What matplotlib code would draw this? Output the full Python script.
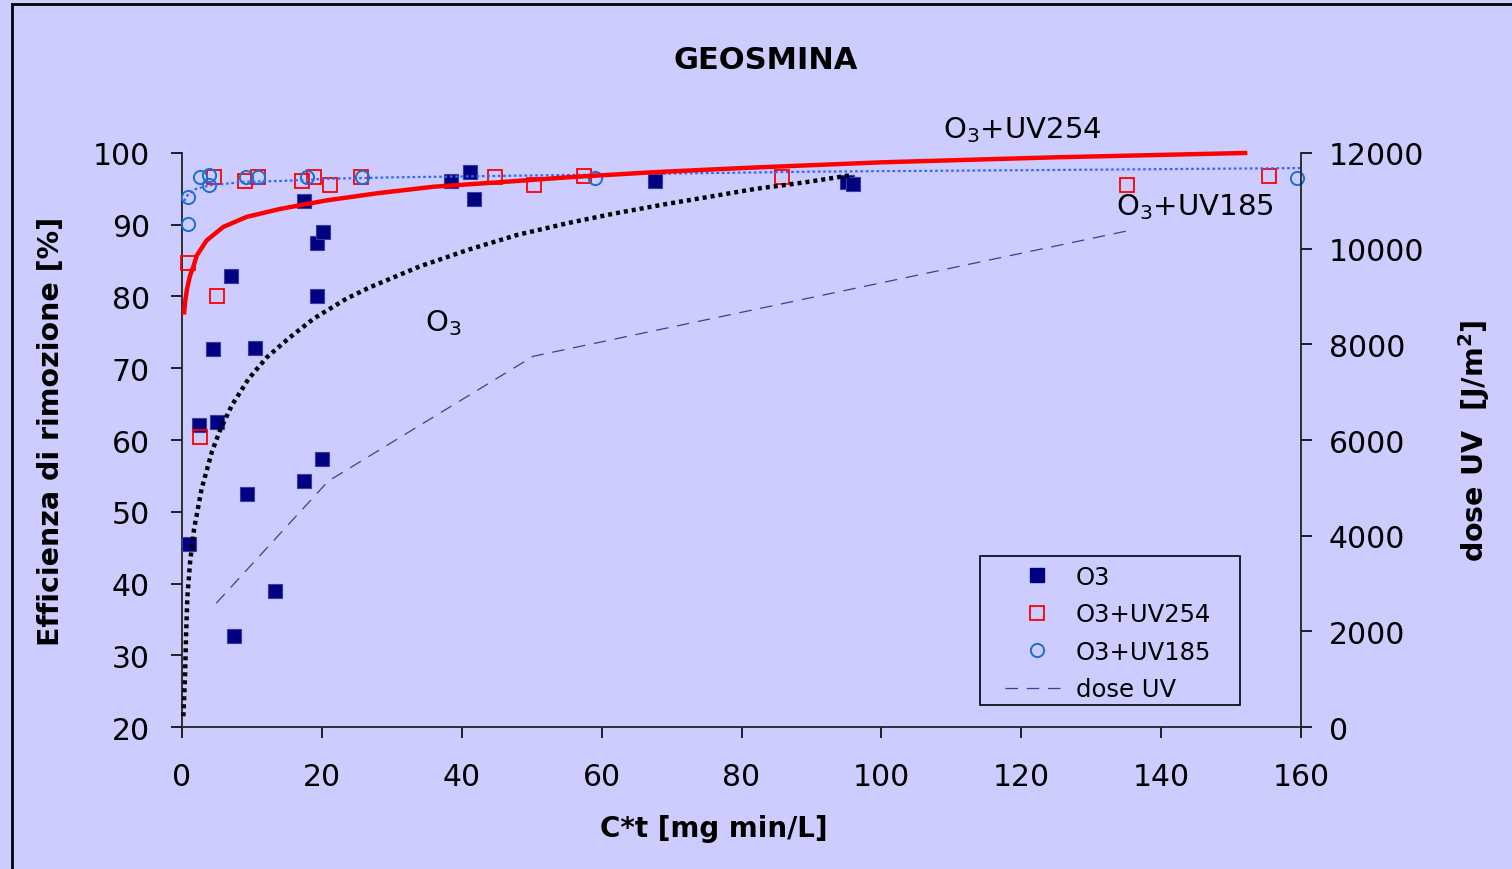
import matplotlib
matplotlib.use('Agg')
import matplotlib.pyplot as plt
from matplotlib.lines import Line2D
from matplotlib.patches import Rectangle

plt.rcParams['font.family'] = ['DejaVu Sans']
plt.rcParams['mathtext.fontset'] = 'dejavusans'

bg = '#CCCCFF'

# measured points (C*t, removal %)
o3_ct = [1.0, 2.4, 5.0, 4.4, 7.0, 7.4, 9.3, 10.5, 13.3, 17.4, 17.5, 19.3, 19.3, 20.1, 20.0, 38.5, 41.2, 41.7, 67.6, 95.1, 96.0]
o3_eff = [45.5, 62.1, 62.5, 72.7, 82.8, 32.7, 52.5, 72.8, 39.0, 93.3, 54.3, 80.0, 87.5, 89.0, 57.3, 96.1, 97.3, 93.6, 96.1, 96.0, 95.7]

uv254_ct = [0.9, 2.6, 5.0, 4.5, 9.0, 10.8, 17.1, 18.8, 21.1, 25.6, 44.8, 50.3, 57.5, 85.8, 135.1, 155.4]
uv254_eff = [84.7, 60.4, 80.0, 96.6, 96.1, 96.7, 96.1, 96.6, 95.5, 96.7, 96.6, 95.5, 96.8, 96.7, 95.5, 96.8]

uv185_ct = [0.9, 0.9, 2.5, 3.9, 3.8, 9.2, 10.8, 17.8, 25.8, 59.0, 159.4]
uv185_eff = [90.1, 93.8, 96.6, 96.9, 95.5, 96.7, 96.6, 96.7, 96.6, 96.5, 96.5]

# trend lines
o3_trend_ct = [0.19, 0.43, 0.57, 0.76, 1.14, 1.72, 2.8, 4.25, 5.4, 7.1, 9.5, 12.1, 15.4, 18.8, 23.5,
               26.9, 34, 41.2, 48, 55.5, 62, 69.3, 76, 82, 89, 95.6]
o3_trend_eff = [21.5, 27.1, 32.7, 38.1, 42.9, 47.6, 53.2, 58.3, 61.3, 64.8, 68.5, 71.5, 74.3, 76.9, 79.7,
                81.3, 84.2, 86.6, 88.6, 90.3, 91.6, 92.9, 94.0, 95.0, 95.9, 96.9]

uv254_trend_ct = [0.3, 0.45, 0.7, 1.14, 1.6, 2.1, 3.5, 5.9, 9.25, 14, 20.7, 28, 36, 45, 55, 67, 80, 100, 125, 152]
uv254_trend_eff = [77.8, 79.3, 81.0, 82.9, 84.1, 85.7, 87.8, 89.7, 91.1, 92.2, 93.4, 94.4, 95.3, 95.9, 96.6,
                   97.3, 97.9, 98.7, 99.4, 100.0]

uv185_trend_ct = [0.3, 0.9, 2.0, 4.0, 9.2, 14, 20.7, 30, 45, 60, 90, 120, 160]
uv185_trend_eff = [93.3, 94.3, 95.0, 95.5, 96.0, 96.1, 96.4, 96.6, 96.8, 97.0, 97.4, 97.6, 97.9]

# UV dose (right axis)
dose_ct = [4.9, 20.9, 50.2, 135.1]
dose_uv = [2590, 5140, 7750, 10370]

x_ticks = [0, 20, 40, 60, 80, 100, 120, 140, 160]
y_ticks = [20, 30, 40, 50, 60, 70, 80, 90, 100]
dose_ticks = [0, 2000, 4000, 6000, 8000, 10000, 12000]

fig = plt.figure(figsize=(15.12, 8.70), dpi=100, facecolor=bg)
ax = fig.add_axes([0.1204, 0.1632, 0.7401, 0.6598])
ax.set_facecolor('none')

ax.plot(o3_ct, o3_eff, ls='none', marker='s', ms=10, mfc='#000080', mec='#3a3aa0', mew=0.8, clip_on=False, zorder=3)
ax.plot(uv254_ct, uv254_eff, ls='none', marker='s', ms=9.5, mfc='none', mec='#FF0000', mew=1.3, clip_on=False, zorder=3)
ax.plot(uv185_ct, uv185_eff, ls='none', marker='o', ms=9.5, mfc='none', mec='#1a6fd6', mew=1.4, clip_on=False, zorder=3)

ax.plot(uv185_trend_ct, uv185_trend_eff, color='#3366FF', lw=1.6, ls=(0, (1.2, 1.2)), clip_on=False, zorder=4)
ax.plot(o3_trend_ct, o3_trend_eff, color='black', lw=3.2, ls=(0, (0.9, 0.9)), clip_on=False, zorder=4)
ax.plot(uv254_trend_ct, uv254_trend_eff, color='#FF0000', lw=3.2, clip_on=False, zorder=4)

ax.set_xlim(0, 160)
ax.set_ylim(20, 100)
ax.set_xticks(x_ticks)
ax.set_yticks(y_ticks)
ax.tick_params(axis='x', direction='out', length=8, width=1.2, labelsize=21.5, pad=17)
ax.tick_params(axis='y', direction='out', length=8, width=1.2, labelsize=21.5, pad=15)
for s in ['top', 'right']:
    ax.spines[s].set_visible(False)
for s in ['left', 'bottom']:
    ax.spines[s].set_linewidth(1.3)
    ax.spines[s].set_color('#222222')

ax.set_xlabel('C*t [mg min/L]', fontsize=20, fontweight='bold', labelpad=17)
ax.xaxis.label.set_x(0.475)
ax.set_ylabel('Efficienza di rimozione [%]', fontsize=20.5, fontweight='bold', labelpad=20)
ax.yaxis.label.set_y(0.516)
ax.set_title('GEOSMINA', fontsize=22, fontweight='bold', pad=61, x=0.522)

ax.text(120.2, 103.3, 'O$_3$+UV254', fontsize=21, ha='center', va='center')
ax.text(144.8, 92.6, 'O$_3$+UV185', fontsize=21, ha='center', va='center')
ax.text(37.3, 76.4, 'O$_3$', fontsize=21, ha='center', va='center')

ax2 = ax.twinx()
ax2.plot(dose_ct, dose_uv, color='#3d3d9e', lw=0.9, ls=(0, (10, 7)), zorder=2)
ax2.set_ylim(0, 12000)
ax2.set_yticks(dose_ticks)
ax2.tick_params(axis='y', direction='out', length=8, width=1.2, labelsize=21.5, pad=12)
for s in ['top', 'left', 'bottom']:
    ax2.spines[s].set_visible(False)
ax2.spines['right'].set_linewidth(1.3)
ax2.spines['right'].set_color('#222222')
ax2.set_ylabel('dose UV  [J/m$^\\mathbf{2}$]', fontsize=20.5, fontweight='bold', labelpad=23)

handles = [
    Line2D([], [], ls='none', marker='s', ms=10, mfc='#000080', mec='#000080'),
    Line2D([], [], ls='none', marker='s', ms=9.5, mfc='none', mec='#FF0000', mew=1.3),
    Line2D([], [], ls='none', marker='o', ms=9.5, mfc='none', mec='#1a6fd6', mew=1.4),
    Line2D([], [], color='#3d3d9e', lw=0.9, ls=(0, (10, 7))),
]
labels = ['O3', 'O3+UV254', 'O3+UV185', 'dose UV']
ax2.add_patch(Rectangle((0.713, 0.038), 0.232, 0.26, transform=ax2.transAxes,
                        facecolor=bg, edgecolor='black', lw=1.2, zorder=5))
leg = ax2.legend(handles, labels, loc='upper left', bbox_to_anchor=(0.727, 0.300),
                 frameon=False, fontsize=17.5, handlelength=2.6, handletextpad=0.3,
                 labelspacing=0.56, borderaxespad=0)
leg.set_zorder(6)

fig.add_artist(Rectangle((12 / 1512, -0.05), 1.2, 1.05 - 5 / 870, transform=fig.transFigure,
                         fill=False, edgecolor='black', lw=2))

fig.savefig('out.png', dpi=100, facecolor=bg)
